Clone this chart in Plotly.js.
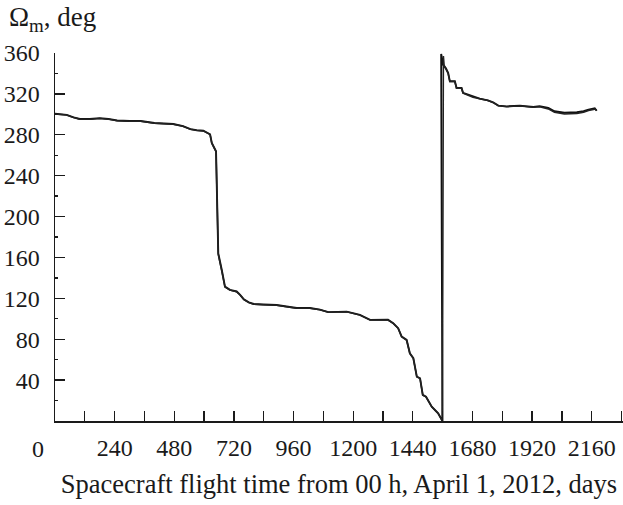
<!DOCTYPE html>
<html>
<head>
<meta charset="utf-8">
<script src="https://cdn.plot.ly/plotly-3.0.1.min.js"></script>
<style>html,body{margin:0;padding:0;background:#fff;}#chart{width:623px;height:505px;}</style>
</head>
<body>
<div id="chart"></div>
<script>
// Series A (days, deg)
const dayA = [0, 30, 47, 75, 100, 140, 180, 215, 250, 300, 345, 400, 440, 476, 515, 545, 570, 597, 624, 631, 648, 657, 671, 684, 704, 731, 745, 760, 780, 800, 838, 892, 945, 973, 1026, 1066, 1100, 1150, 1174, 1227, 1268, 1340, 1361, 1381, 1395, 1415, 1428, 1442, 1456, 1469, 1480, 1493, 1516, 1542, 1559,
  1554, 1562, 1573, 1582, 1589, 1609, 1616, 1636, 1642, 1662, 1682, 1709, 1742, 1763, 1784, 1818, 1871, 1925, 1950, 1985, 2010, 2050, 2100, 2127, 2147, 2167, 2172, 2180];
const omegaA = [300.5, 300.3, 299.5, 297, 295.5, 295.5, 296.3, 295.5, 294, 293.5, 293.5, 291.5, 291, 290.5, 288.5, 285.5, 284.5, 284, 280.5, 272, 263.8, 164, 148, 131.5, 128.3, 126.7, 123.4, 119, 116, 114.5, 114, 113.5, 111.5, 110.5, 110.5, 109, 106.5, 107, 107, 103.8, 98.9, 99, 95.7, 90.8, 82.6, 79.3, 66.3, 61.4, 43.4, 41.8, 25.5, 23.8, 14, 7.5, 0,
  359, 348.5, 345, 340.5, 332.3, 332.3, 325.8, 325.8, 321, 319.3, 317, 315.4, 313.7, 311.8, 308.5, 307.8, 308.5, 307.2, 308, 306.3, 303, 301.5, 302, 303, 304.6, 305.5, 305.8, 303.5];
// Series B (days, deg)
const dayB = [0, 30, 47, 75, 100, 140, 180, 215, 250, 300, 345, 400, 440, 476, 515, 545, 570, 597, 624, 631, 648, 657, 671, 684, 704, 731, 745, 760, 780, 800, 838, 892, 945, 973, 1026, 1066, 1100, 1150, 1174, 1227, 1268, 1340, 1361, 1381, 1395, 1415, 1428, 1442, 1456, 1469, 1480, 1493, 1516, 1542, 1559,
  1563, 1566, 1573, 1582, 1589, 1609, 1616, 1636, 1642, 1662, 1682, 1709, 1742, 1763, 1784, 1818, 1871, 1925, 1950, 1985, 2010, 2050, 2100, 2127, 2147, 2167, 2172, 2180];
const omegaB = [300.3, 300, 299.3, 296.8, 295.3, 295.3, 296, 295.3, 293.8, 293.3, 293.3, 291.3, 290.8, 290.3, 288.3, 285.3, 284.3, 283.8, 280.3, 271.8, 263.5, 163, 147, 131, 128, 126.5, 123.2, 118.8, 115.8, 114.3, 113.8, 113.3, 111.3, 110.3, 110.3, 108.8, 106.3, 106.8, 106.8, 103.6, 98.7, 98.8, 95.5, 90.6, 82.4, 79.1, 66.1, 61.2, 43.2, 41.6, 25.3, 23.6, 13.8, 7.3, 0,
  357, 348, 344.5, 340, 332, 332, 325.5, 325.5, 320.8, 319, 316.8, 315.2, 313.5, 311.5, 308.3, 307.5, 308.2, 307, 307.5, 305.3, 302, 300.3, 300.8, 302, 303.8, 304.8, 305.2, 304];
const xTickVals = [240, 480, 720, 960, 1200, 1440, 1680, 1920, 2160];
const xTickText = ['240', '480', '720', '960', '1200', '1440', '1680', '1920', '2160'];
const yTickVals = [40, 80, 120, 160, 200, 240, 280, 320, 360];
const yTickText = ['40', '80', '120', '160', '200', '240', '280', '320', '360'];

const FONT = 'Liberation Serif';
const INK = '#1a1a1a';
const traces = [
  {x: dayA, y: omegaA, mode: 'lines', line: {color: '#111', width: 1.9}, hoverinfo: 'skip'},
  {x: dayB, y: omegaB, mode: 'lines', line: {color: '#222', width: 1.5}, hoverinfo: 'skip'}
];
const layout = {
  width: 623, height: 505,
  margin: {l: 55, r: 0, t: 53, b: 84},
  paper_bgcolor: '#fff', plot_bgcolor: '#fff',
  showlegend: false,
  font: {family: FONT, size: 24, color: INK},
  xaxis: {
    range: [0, 2285.7], showgrid: false, zeroline: false,
    showline: true, linecolor: INK, linewidth: 1.5,
    tickmode: 'array', tickvals: xTickVals, ticktext: xTickText,
    ticks: 'inside', ticklen: 10, tickwidth: 1.3, tickcolor: INK,
    ticklabelstandoff: 5,
    minor: {tickmode: 'linear', tick0: 0, dtick: 120, ticks: 'inside', ticklen: 10, tickwidth: 1.3, tickcolor: INK},
    tickfont: {family: FONT, size: 24, color: INK},
    title: {text: 'Spacecraft flight time from 00 h, April 1, 2012, days', font: {family: FONT, size: 26.5, color: INK}, standoff: 14}
  },
  yaxis: {
    range: [0, 360], showgrid: false, zeroline: false,
    showline: true, linecolor: INK, linewidth: 1.5,
    tickmode: 'array', tickvals: yTickVals, ticktext: yTickText,
    ticks: 'inside', ticklen: 10, tickwidth: 1.3, tickcolor: INK,
    ticklabelstandoff: 9,
    minor: {tickmode: 'linear', tick0: 0, dtick: 20, ticks: 'inside', ticklen: 3, tickwidth: 1.3, tickcolor: INK},
    tickfont: {family: FONT, size: 24, color: INK}
  },
  annotations: [
    {text: '0', xref: 'paper', yref: 'paper', x: -0.0303, y: -0.076, xanchor: 'center', yanchor: 'middle', showarrow: false, font: {family: FONT, size: 24, color: INK}},
    {text: 'Ω<sub>m</sub>, deg', xref: 'paper', yref: 'paper', x: -0.085, y: 1.04, xanchor: 'left', yanchor: 'bottom', showarrow: false, font: {family: FONT, size: 27, color: INK}}
  ]
};
Plotly.newPlot('chart', traces, layout, {staticPlot: true, displayModeBar: false});
</script>
</body>
</html>
